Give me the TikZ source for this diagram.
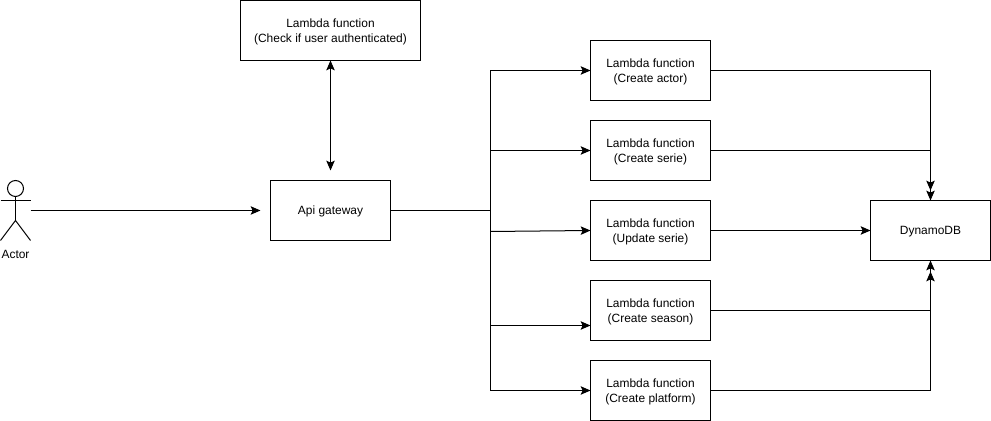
\documentclass[tikz,border=0pt]{standalone}
\usepackage{fontspec}
\setmainfont{Liberation Sans}
\usetikzlibrary{arrows.meta}
\tikzset{
  fnbox/.style={draw,line width=0.57pt,minimum width=2.4cm,minimum height=1.2cm,outer sep=0pt,
    inner sep=0pt,align=center,text depth=0pt,font=\fontsize{6.8}{8.5}\selectfont},
  fnlabel/.style={inner sep=0pt,font=\fontsize{6.8}{8.3}\selectfont},
  link/.style={line width=0.57pt}
}

\begin{document}
\begin{tikzpicture}[x=0.02cm,y=-0.02cm,>={Stealth[length=5.6pt,width=4.8pt,inset=1.1pt]}]
  \useasboundingbox (-0.5,-0.5) rectangle (990.5,420.5);
  \node[fnbox,minimum width=3.6cm] (authfn) at (330,30) {Lambda function\\(Check if user authenticated)};
  \node[fnbox] (gateway) at (330,210) {Api gateway};
  \node[fnbox] (actorfn) at (650,70) {Lambda function\\(Create actor)};
  \node[fnbox] (seriefn) at (650,150) {Lambda function\\(Create serie)};
  \node[fnbox] (updatefn) at (650,230) {Lambda function\\(Update serie)};
  \node[fnbox] (seasonfn) at (650,310) {Lambda function\\(Create season)};
  \node[fnbox] (platformfn) at (650,390) {Lambda function\\(Create platform)};
  \node[fnbox] (dynamo) at (930,230) {DynamoDB};
  % the actor
  \node[draw,circle,line width=0.57pt,minimum size=0.32cm,inner sep=0pt,outer sep=0pt] (head) at (15,188) {};
  \coordinate (neck) at (15,200);
  \coordinate (hip) at (15,220);
  \coordinate (handl) at (0,200);
  \coordinate (handr) at (30,200);
  \coordinate (footl) at (0,240);
  \coordinate (footr) at (30,240);
  \coordinate (actorout) at (30,210);
  \draw[link] (head.south)--(hip);
  \draw[link] (handl)--(handr);
  \draw[link] (footl)--(hip)--(footr);
  \node[fnlabel] (actorlabel) at (15,253.5) {Actor};
  % gateway side
  \coordinate (gatewayin) at (260,210);
  \coordinate (gatewaytop) at (330,170);
  \coordinate (split) at (490,210);
  \coordinate (updatein) at (490,231);
  \draw[link,->] (actorout)--(gatewayin);
  \draw[link,<->] (authfn.south)--(gatewaytop);
  \draw[link] (gateway.east)--(split);
  \draw[link,->] (split)|-(actorfn.west);
  \draw[link,->] (split)|-(seriefn.west);
  \draw[link,->] (updatein)--(updatefn.west);
  \coordinate (seasonin) at (590,325);
  \draw[link,->] (split)|-(seasonin);
  \draw[link,->] (split)|-(platformfn.west);
  % into the table
  \coordinate (topin) at (930,190);
  \coordinate (botin) at (930,271);
  \draw[link,->] (actorfn.east)-|(topin);
  \draw[link,->] (seriefn.east)-|(dynamo.north);
  \draw[link,->] (updatefn.east)--(dynamo.west);
  \draw[link,->] (seasonfn.east)-|(dynamo.south);
  \draw[link,->] (platformfn.east)-|(botin);
\end{tikzpicture}
\end{document}
